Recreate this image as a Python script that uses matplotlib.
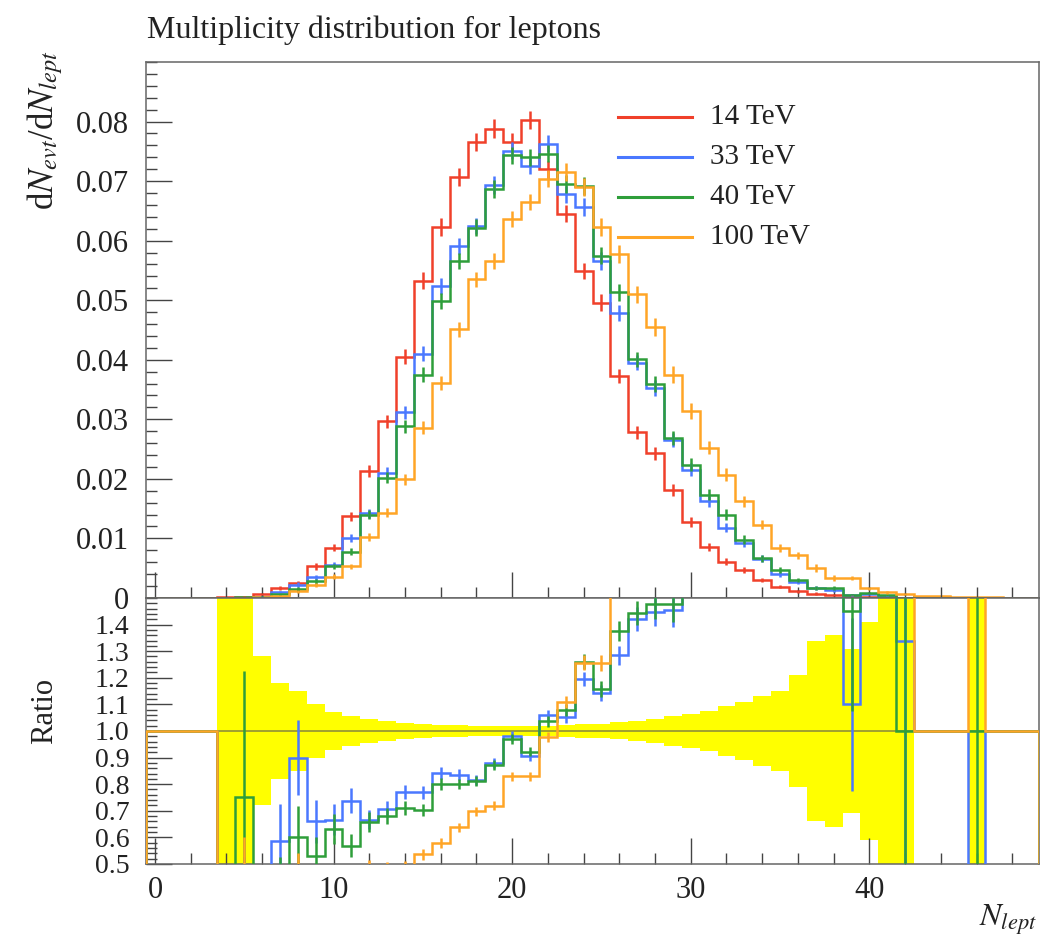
import numpy as np
import matplotlib
matplotlib.use('Agg')
import matplotlib.pyplot as plt
from matplotlib.ticker import MultipleLocator

plt.rcParams['font.family'] = 'serif'
plt.rcParams['font.serif'] = ['Liberation Serif', 'DejaVu Serif']
plt.rcParams['mathtext.fontset'] = 'stix'
plt.rcParams['text.color'] = '#222222'
plt.rcParams['xtick.color'] = '#444444'
plt.rcParams['ytick.color'] = '#444444'
plt.rcParams['xtick.labelcolor'] = '#222222'
plt.rcParams['ytick.labelcolor'] = '#222222'

# lepton multiplicity bins 0..49 (unit width)
n_lept = np.arange(50)
edges = np.arange(51) - 0.5

labels = ['14 TeV', '33 TeV', '40 TeV', '100 TeV']
colors = ['#f0402a', '#4a78ff', '#2e9e3a', '#ffa526']

tev14 = [0, 0, 0, 0, 0.00008,
         0.0002, 0.0006, 0.0017, 0.0025, 0.0053,
         0.0084, 0.0137, 0.0213, 0.0297, 0.0405,
         0.0533, 0.0623, 0.0707, 0.0766, 0.0788,
         0.0766, 0.0802, 0.0720, 0.0645, 0.0549,
         0.0496, 0.0373, 0.0278, 0.0243, 0.0182,
         0.0128, 0.0086, 0.0061, 0.0047, 0.0030,
         0.0019, 0.0011, 0.0007, 0.0005, 0.0004,
         0.0002, 0.0001, 0.00005, 0, 0,
         0, 0.00003, 0, 0, 0]

tev33 = [0, 0, 0, 0, 0,
         0.00005, 0.0002, 0.0010, 0.00225, 0.0035,
         0.0056, 0.0101, 0.0142, 0.0210, 0.0312,
         0.0410, 0.0524, 0.0591, 0.0625, 0.0693,
         0.0751, 0.0726, 0.0763, 0.0678, 0.0656,
         0.0566, 0.0479, 0.0395, 0.0352, 0.0265,
         0.0215, 0.0162, 0.0118, 0.0092, 0.0066,
         0.0040, 0.0027, 0.0017, 0.0013, 0.00044,
         0.0006, 0.0004, 0.000067, 0.0001, 0.00005,
         0, 0, 0, 0, 0]

tev40 = [0, 0, 0, 0, 0,
         0.00015, 0.0002, 0.0007, 0.0015, 0.0028,
         0.0053, 0.0078, 0.0140, 0.0202, 0.0288,
         0.0375, 0.0499, 0.0566, 0.0622, 0.0687,
         0.0743, 0.0740, 0.0746, 0.0695, 0.0692,
         0.0575, 0.0513, 0.0401, 0.0359, 0.0269,
         0.0224, 0.0173, 0.0140, 0.0098, 0.0067,
         0.0047, 0.0030, 0.0017, 0.0017, 0.00058,
         0.0008, 0.0005, 0.00005, 0.0001, 0.00005,
         0, 0.00003, 0, 0, 0]

tev100 = [0, 0, 0, 0, 0,
          0.00006, 0.0001, 0.0003, 0.0011, 0.0022,
          0.0036, 0.0053, 0.0103, 0.0143, 0.0199,
          0.0286, 0.0361, 0.0451, 0.0535, 0.0566,
          0.0636, 0.0665, 0.0704, 0.0715, 0.0690,
          0.0623, 0.0578, 0.0510, 0.0455, 0.0375,
          0.0314, 0.0252, 0.0207, 0.0162, 0.0123,
          0.0084, 0.0072, 0.0050, 0.0034, 0.0034,
          0.0016, 0.0010, 0.0007, 0.0004, 0.0003,
          0.0002, 0.0001, 0.0001, 0.00005, 0]

# relative stat. uncertainty of the 14 TeV reference (yellow band)
nan = np.nan
band = [nan, nan, nan, nan, 0.8,
        0.55, 0.28, 0.18, 0.15, 0.10,
        0.07, 0.055, 0.045, 0.037, 0.031,
        0.027, 0.024, 0.022, 0.02, 0.02,
        0.019, 0.019, 0.02, 0.022, 0.025,
        0.028, 0.032, 0.038, 0.045, 0.055,
        0.065, 0.075, 0.095, 0.11, 0.13,
        0.15, 0.21, 0.34, 0.36, 0.31,
        0.41, 0.8, 0.9, nan, nan,
        nan, 1.0, nan, nan, nan]

main_ticks = [0, 0.01, 0.02, 0.03, 0.04, 0.05, 0.06, 0.07, 0.08]
main_ticklabels = ['0', '0.01', '0.02', '0.03', '0.04', '0.05', '0.06', '0.07', '0.08']
ratio_ticks = [0.5, 0.6, 0.7, 0.8, 0.9, 1.0, 1.1, 1.2, 1.3, 1.4]
ratio_ticklabels = ['0.5', '0.6', '0.7', '0.8', '0.9', '1.0', '1.1', '1.2', '1.3', '1.4']
x_ticks = [0, 10, 20, 30, 40]

series = [np.array(v, dtype=float) for v in (tev14, tev33, tev40, tev100)]
ref = series[0]
band = np.array(band, dtype=float)

fig = plt.figure(figsize=(10.43, 9.46), dpi=100)
ax = fig.add_axes([0.14, 0.3679, 0.8562, 0.5666])
rax = fig.add_axes([0.14, 0.0867, 0.8562, 0.2812], sharex=ax)

lw = 1.8
# main panel
for vals, c in zip(series, colors):
    ax.stairs(vals, edges, color=c, lw=lw)
    err = band * np.sqrt(ref * vals)
    m = ~np.isnan(err) & (vals > 0)
    ax.errorbar(n_lept[m], vals[m], yerr=err[m], fmt='none', ecolor=c, elinewidth=lw)

# ratio panel
bm = ~np.isnan(band)
rax.bar(n_lept[bm], 2 * band[bm], bottom=1 - band[bm], width=1.0,
        color='#ffff00', lw=0, zorder=1)
rax.axhline(1.0, color='#555555', lw=1.3, alpha=0.6, zorder=2)
safe_ref = np.where(ref > 0, ref, 1.0)
for vals, c in zip(series[1:], colors[1:]):
    ratio = np.where(ref > 0, vals / safe_ref, 1.0)
    rax.stairs(ratio, edges, color=c, lw=lw, zorder=3)
    rerr = band * np.sqrt(ratio)
    m = ~np.isnan(rerr)
    rax.errorbar(n_lept[m], ratio[m], yerr=rerr[m], fmt='none', ecolor=c,
                 elinewidth=lw, zorder=3)

# axes styling
for a in (ax, rax):
    a.set_xlim(-0.5, 49.5)
    a.xaxis.set_major_locator(MultipleLocator(10))
    a.xaxis.set_minor_locator(MultipleLocator(2))
    a.tick_params(which='both', direction='in', top=False, right=False,
                  width=1.0, labelsize=22)
    a.tick_params(which='major', length=19)
    a.tick_params(which='minor', length=8)
    for s in a.spines.values():
        s.set_color('#666666')
        s.set_linewidth(1.1)

ax.set_ylim(0, 0.09)
ax.set_yticks(main_ticks, main_ticklabels)
ax.yaxis.set_minor_locator(MultipleLocator(0.002))
ax.tick_params(axis='x', labelbottom=False)
ax.tick_params(axis='y', pad=12)

rax.set_ylim(0.5, 1.5)
rax.set_yticks(ratio_ticks, ratio_ticklabels)
rax.yaxis.set_minor_locator(MultipleLocator(0.02))
rax.set_xticks(x_ticks, [str(t) for t in x_ticks])
rax.tick_params(axis='y', pad=12, labelsize=20)
rax.tick_params(axis='x', pad=9)

# legend
leg_y = [0.897, 0.823, 0.748, 0.674]
for lab, c, yy in zip(labels, colors, leg_y):
    ax.plot([0.529, 0.611], [yy, yy], color=c, lw=2.2, transform=ax.transAxes)
    ax.text(0.632, yy, lab, fontsize=21, va='center', ha='left', transform=ax.transAxes)

fig.text(0.141, 0.968, 'Multiplicity distribution for leptons', fontsize=23,
         ha='left', va='center')
fig.text(0.043, 0.947, r'd$N_{evt}$/d$N_{lept}$', fontsize=25, rotation=90,
         ha='center', va='top')
fig.text(0.043, 0.249, 'Ratio', fontsize=22, rotation=90, ha='center', va='center')
fig.text(0.994, 0.028, r'$N_{lept}$', fontsize=23, ha='right', va='center')

fig.savefig('out.png', dpi=100)
